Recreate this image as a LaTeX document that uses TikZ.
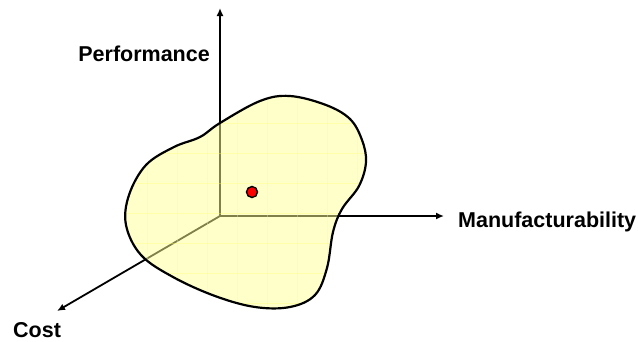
\documentclass[tikz,border=0pt]{standalone}
\usepackage{fontspec}
\setmainfont{Liberation Sans}
\usetikzlibrary{arrows.meta, positioning}
\definecolor{blobfill}{RGB}{255,255,150}
\definecolor{blobgrid}{RGB}{255,255,110}
\tikzset{
  axis/.style={line width=1.8pt, -{Latex[length=8pt,width=7pt]}},
  lbl/.style={font=\fontsize{21.5}{25}\selectfont\bfseries, inner sep=0pt},
}
\begin{document}
\begin{tikzpicture}[x=1pt, y=-1pt]
\useasboundingbox (0,0) rectangle (638,341);
% axes
\coordinate (O) at (220,216);
\coordinate (perf) at (220,8);
\coordinate (manu) at (444,216);
\coordinate (cost) at (57,311);
\draw[axis] (O)--(perf);
\draw[axis] (O)--(manu);
\draw[axis] (O)--(cost);
\node[lbl, anchor=base east] (perflbl) at (210,61) {Performance};
\node[lbl, anchor=base west] (manulbl) at (458,227) {Manufacturability};
\node[lbl, anchor=base west] (costlbl) at (13,337) {Cost};
% design space
\def\blobpath{plot[smooth cycle, tension=0.6] coordinates {
  (220,123) (260,101) (290,96) (326,105) (350,119) (362,140) (366,162)
  (359,186) (342,209) (333,232) (327,268) (315,295) (290,307) (255,307)
  (215,296) (173,277) (141,255) (126,225) (129,195) (146,165)
  (174,147) (200,137)}}
\fill[blobfill, fill opacity=0.5] \blobpath;
\begin{scope}
  \clip \blobpath;
  \foreach \gx in {117,147,...,387} \draw[blobgrid, line width=0.5pt, opacity=0.35] (\gx,90)--(\gx,315);
  \foreach \gy in {93,123,...,313} \draw[blobgrid, line width=0.5pt, opacity=0.35] (115,\gy)--(380,\gy);
\end{scope}
\draw[line width=2.2pt] \blobpath;
\node[circle, fill=red, draw=black, line width=1.4pt, minimum size=11pt, inner sep=0pt] (pt) at (252,192) {};
\end{tikzpicture}
\end{document}
